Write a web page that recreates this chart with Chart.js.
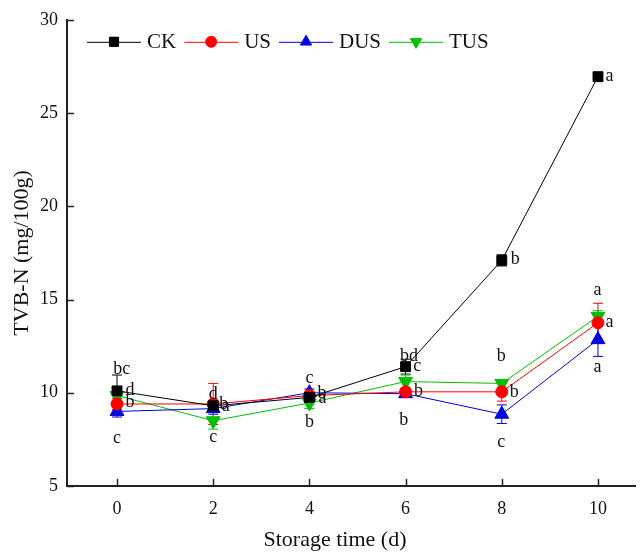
<!DOCTYPE html>
<html>
<head>
<meta charset="utf-8">
<script src="https://cdn.jsdelivr.net/npm/chart.js@4.4.1/dist/chart.umd.min.js"></script>
<style>
html, body { margin: 0; padding: 0; background: #fff; }
canvas { display: block; }
</style>
</head>
<body>
<canvas id="tvbnChart" width="644" height="556"></canvas>
<script>
// data
const days = [0, 2, 4, 6, 8, 10];
const xTicks = [0, 2, 4, 6, 8, 10];
const yTicks = [5, 10, 15, 20, 25, 30];

const ck = [10.1, 9.3, 9.75, 11.4, 17.1, 26.95];
const us = [9.4, 9.4, 9.85, 10.05, 10.05, 13.75];
const dus = [9.0, 9.15, 10.0, 9.95, 8.85, 12.85];
const tus = [9.85, 8.5, 9.45, 10.6, 10.5, 14.1];

const ckErr = [0.85, 0.15, 0.1, 0.4, 0.3, 0.2];
const usErr = [0.3, 1.1, 0.2, 0.2, 0.5, 1.05];
const dusErr = [0.3, 0.3, 0.2, 0.2, 0.5, 0.9];
const tusErr = [0.25, 0.45, 0.3, 0.35, 0.2, 0.3];

// significance letters (x = day, y = TVB-N value where the letter sits)
const sigLetters = [
    { x: 0.1, y: 11.28, t: 'bc' }, { x: 0.27, y: 10.16, t: 'd' }, { x: 0.27, y: 9.47, t: 'b' }, { x: 0, y: 7.54, t: 'c' },
    { x: 2.0, y: 9.93, t: 'd' }, { x: 2.22, y: 9.4, t: 'b' }, { x: 2.26, y: 9.3, t: 'a' }, { x: 2.0, y: 7.6, t: 'c' },
    { x: 4.0, y: 10.8, t: 'c' }, { x: 4.26, y: 9.95, t: 'b' }, { x: 4.27, y: 9.7, t: 'a' }, { x: 4.0, y: 8.4, t: 'b' },
    { x: 6.07, y: 11.98, t: 'bd' }, { x: 6.24, y: 11.44, t: 'c' }, { x: 6.27, y: 10.1, t: 'b' }, { x: 5.96, y: 8.5, t: 'b' },
    { x: 8.28, y: 17.17, t: 'b' }, { x: 7.99, y: 11.94, t: 'b' }, { x: 8.26, y: 10.05, t: 'b' }, { x: 7.99, y: 7.34, t: 'c' },
    { x: 10.24, y: 26.95, t: 'a' }, { x: 9.99, y: 15.49, t: 'a' }, { x: 10.24, y: 13.76, t: 'a' }, { x: 9.99, y: 11.35, t: 'a' }
];

const serif = '"Liberation Serif", "Times New Roman", serif';
const errors = [ckErr, usErr, dusErr, tusErr];

const extras = {
    id: 'extras',
    beforeDatasetsDraw(chart) {
        const ctx = chart.ctx;
        const xs = chart.scales.x, ys = chart.scales.y;
        ctx.save();
        chart.data.datasets.forEach(function(ds, i) {
            ctx.strokeStyle = ds.borderColor;
            ctx.lineWidth = 1;
            ds.data.forEach(function(v, j) {
                const px = xs.getPixelForValue(days[j]);
                const top = ys.getPixelForValue(v.y + errors[i][j]);
                const bot = ys.getPixelForValue(v.y - errors[i][j]);
                ctx.beginPath();
                ctx.moveTo(px, top); ctx.lineTo(px, bot);
                ctx.moveTo(px - 5, top); ctx.lineTo(px + 5, top);
                ctx.moveTo(px - 5, bot); ctx.lineTo(px + 5, bot);
                ctx.stroke();
            });
        });
        ctx.restore();
    },
    afterDraw(chart) {
        const ctx = chart.ctx;
        const xs = chart.scales.x, ys = chart.scales.y;
        const area = chart.chartArea;
        ctx.save();

        // inward tick marks
        ctx.strokeStyle = '#222';
        ctx.lineWidth = 1.5;
        ctx.beginPath();
        xs.ticks.forEach(function(t) {
            const px = Math.round(xs.getPixelForValue(t.value)) + 0.5;
            ctx.moveTo(px, area.bottom); ctx.lineTo(px, area.bottom - 7);
        });
        ys.ticks.forEach(function(t) {
            const py = Math.round(ys.getPixelForValue(t.value)) + 0.5;
            ctx.moveTo(area.left, py); ctx.lineTo(area.left + 7, py);
        });
        ctx.stroke();

        // letters
        ctx.fillStyle = '#111';
        ctx.font = '18px ' + serif;
        ctx.textAlign = 'center';
        ctx.textBaseline = 'middle';
        sigLetters.forEach(function(l) {
            ctx.fillText(l.t, xs.getPixelForValue(l.x), ys.getPixelForValue(l.y));
        });

        // legend: line - marker - line, label
        let lx = area.left + 20;
        const ly = area.top + 22;
        ctx.font = '21px ' + serif;
        ctx.textAlign = 'left';
        chart.data.datasets.forEach(function(ds) {
            ctx.strokeStyle = ds.borderColor;
            ctx.lineWidth = 1;
            ctx.beginPath();
            ctx.moveTo(lx, ly + 0.5); ctx.lineTo(lx + 54, ly + 0.5);
            ctx.stroke();
            ctx.fillStyle = ds.pointBackgroundColor;
            ctx.strokeStyle = ds.pointBackgroundColor;
            Chart.helpers.drawPoint(ctx, {
                pointStyle: ds.pointStyle,
                rotation: ds.pointRotation || 0,
                radius: ds.pointStyle === 'circle' ? 5.5 : 6.5,
                borderWidth: 1
            }, lx + 27, ly);
            ctx.fillStyle = '#111';
            ctx.fillText(ds.label, lx + 60, ly + 1);
            lx += 60 + ctx.measureText(ds.label).width + 8;
        });

        // axis titles
        ctx.font = '22px ' + serif;
        ctx.textAlign = 'center';
        ctx.textBaseline = 'middle';
        ctx.fillText('Storage time (d)', 335, 540);
        ctx.translate(22, (area.top + area.bottom) / 2);
        ctx.rotate(-Math.PI / 2);
        ctx.fillText('TVB-N (mg/100g)', 0, 0);
        ctx.restore();
    }
};

function series(label, values, color, style, rotation, radius) {
    return {
        label: label,
        data: values.map(function(v, i) { return { x: days[i], y: v }; }),
        borderColor: color,
        backgroundColor: color,
        pointBackgroundColor: color,
        pointBorderColor: color,
        pointStyle: style,
        pointRotation: rotation,
        pointRadius: radius,
        pointBorderWidth: 1,
        borderWidth: 1,
        tension: 0
    };
}

new Chart(document.getElementById('tvbnChart'), {
    type: 'line',
    data: {
        datasets: [
            series('CK', ck, '#000000', 'rect', 0, 7),
            series('US', us, '#ff0000', 'circle', 0, 6),
            series('DUS', dus, '#0000e0', 'triangle', 0, 8),
            series('TUS', tus, '#00c000', 'triangle', 180, 8)
        ]
    },
    options: {
        responsive: false,
        animation: false,
        layout: { padding: { top: 18, right: 0, left: 0, bottom: 0 } },
        plugins: {
            legend: { display: false },
            tooltip: { enabled: false }
        },
        scales: {
            x: {
                type: 'linear',
                min: -1.04,
                max: 10.77,
                afterBuildTicks: function(scale) {
                    scale.ticks = xTicks.map(function(v) { return { value: v }; });
                },
                afterFit: function(scale) { scale.height = 70; },
                grid: { display: false, drawTicks: false },
                border: { display: true, color: '#222', width: 2 },
                ticks: {
                    color: '#111',
                    padding: 12,
                    font: { family: serif, size: 18 }
                }
            },
            y: {
                type: 'linear',
                min: 5,
                max: 30,
                afterBuildTicks: function(scale) {
                    scale.ticks = yTicks.map(function(v) { return { value: v }; });
                },
                afterFit: function(scale) { scale.width = 67; },
                grid: { display: false, drawTicks: false },
                border: { display: true, color: '#222', width: 2 },
                ticks: {
                    color: '#111',
                    padding: 9,
                    font: { family: serif, size: 18 }
                }
            }
        }
    },
    plugins: [extras]
});
</script>
</body>
</html>
